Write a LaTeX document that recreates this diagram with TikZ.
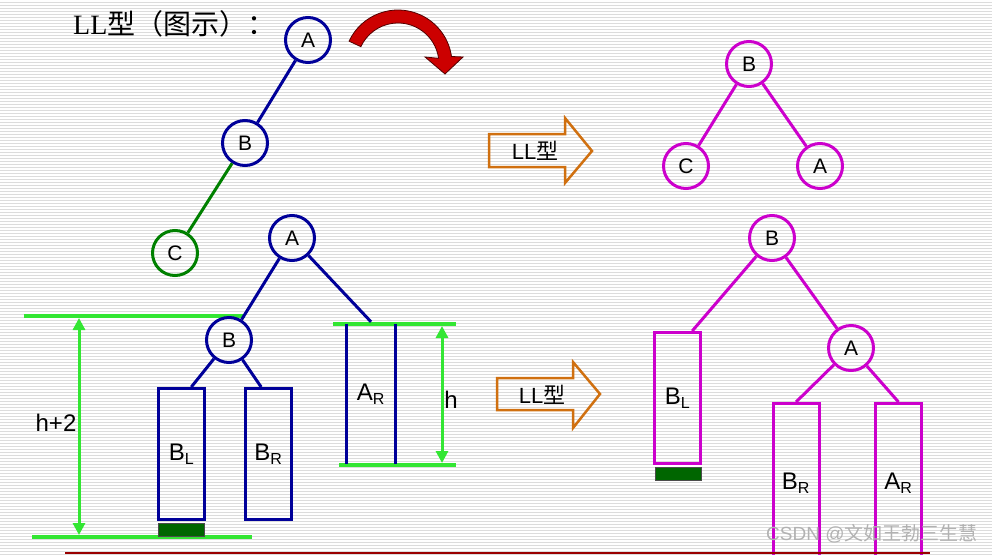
\documentclass[tikz,border=0pt]{standalone}
\usepackage{fontspec}
\setmainfont{Liberation Sans}
\newfontfamily\cjk{Noto Sans CJK SC}
\newfontfamily\serifen{Liberation Serif}
\usetikzlibrary{calc,arrows.meta}
\definecolor{navy}{HTML}{000099}
\definecolor{treegreen}{HTML}{008000}
\definecolor{mag}{HTML}{CC00CC}
\definecolor{lime}{HTML}{33E633}
\definecolor{darkblock}{HTML}{006600}
\definecolor{orangeo}{HTML}{D07010}
\definecolor{redarrow}{HTML}{CC0000}
\definecolor{darkred}{HTML}{990000}
\definecolor{stripe}{HTML}{DCDCDC}
\tikzset{
  circ/.style={circle, draw=#1, line width=3pt, minimum size=45pt, inner sep=0pt, font=\fontsize{21}{21}\selectfont},
  boxn/.style={rectangle, draw=#1, line width=3pt, minimum width=46pt, inner sep=0pt, font=\fontsize{24}{24}\selectfont},
  edge/.style={draw=#1, line width=3pt},
  greenline/.style={draw=lime, line width=3.5pt},
  dimarrow/.style={draw=lime, line width=3pt, {Triangle[width=12pt,length=12pt]}-{Triangle[width=12pt,length=12pt]}},
  block/.style={rectangle, fill=darkblock, draw=black!70, line width=0.6pt, minimum width=46pt, minimum height=13pt, inner sep=0pt},
  fatarrow/.style={draw=orangeo, line width=2.5pt, line join=miter},
  lbl/.style={font=\fontsize{24}{24}\selectfont, inner sep=0pt},
  arrtext/.style={font=\fontsize{22}{22}\selectfont, inner sep=0pt}
}
\newcommand{\sbs}[1]{\textsubscript{\fontsize{16}{16}\selectfont #1}}
\begin{document}
\begin{tikzpicture}[x=1pt,y=-1pt]
\useasboundingbox (0,0) rectangle (992,554);
\fill[white] (0,0) rectangle (992,554);
\foreach \yy in {2,5,...,554} \draw[stripe, line width=1pt] (0,\yy) -- (992,\yy);

% title
\node[anchor=west, inner sep=0pt, font=\fontsize{28}{28}\selectfont] (title) at (73,24) {\serifen LL\cjk 型（图示）：};

% top-left tree
\node[circ=navy] (A1) at (308,40) {A};
\node[circ=navy] (B1) at (245,143) {B};
\node[circ=treegreen] (C1) at (175,253) {C};
\draw[edge=navy] (A1) -- (B1);
\draw[edge=treegreen] (B1) -- (C1);

% red curved arrow
\coordinate (rc) at (398,64);
\filldraw[fill=redarrow, draw=black!60!redarrow, line width=0.8pt, line join=miter]
  ($(rc)+(-155:54)$) arc[start angle=-155, end angle=-8, radius=54]
  -- (463,57) -- (445,74) -- (425,57)
  -- ($(rc)+(-8:41)$) arc[start angle=-8, end angle=-155, radius=41] -- cycle;

% arrows LL
\draw[fatarrow] (489,134) -- (565,134) -- (565,118) -- (592,151) -- (565,183) -- (565,167) -- (489,167) -- cycle;
\node[arrtext] (t1) at (535,151) {LL\cjk 型};
\draw[fatarrow] (497,378) -- (573,378) -- (573,362) -- (600,394) -- (573,428) -- (573,410) -- (497,410) -- cycle;
\node[arrtext] (t2) at (542,395) {LL\cjk 型};

% top-right tree
\node[circ=mag] (B3) at (749,64) {B};
\node[circ=mag] (C3) at (686,166) {C};
\node[circ=mag] (A3) at (820,166) {A};
\draw[edge=mag] (B3) -- (C3);
\draw[edge=mag] (B3) -- (A3);

% bottom-left tree
\draw[greenline] (24,316) -- (245,316);
\draw[greenline] (32,537) -- (252,537);
\draw[greenline] (333,324) -- (456,324);
\draw[greenline] (339,465) -- (456,465);
\coordinate (d1t) at (79,318);
\coordinate (d1b) at (79,535);
\draw[dimarrow] (d1t) -- (d1b);
\coordinate (d2t) at (442,326);
\coordinate (d2b) at (442,463);
\draw[dimarrow] (d2t) -- (d2b);
\node[lbl] (h2) at (56,423) {h+2};
\node[lbl] (h1) at (451,400) {h};

\node[circ=navy] (A2) at (292,238) {A};
\node[circ=navy] (B2) at (229,340) {B};
\node[boxn=navy, minimum height=131pt] (BL1) at (181.5,454) {B\sbs{L}};
\node[boxn=navy, minimum height=131pt] (BR1) at (268.5,454) {B\sbs{R}};
\node[block, anchor=north] (G1) at ($(BL1.south)+(0,1.5)$) {};
\node[rectangle, minimum width=48pt, minimum height=140pt, inner sep=0pt, lbl] (AR1) at (371,394) {A\sbs{R}};
\draw[edge=navy] (AR1.north west) -- (AR1.south west);
\draw[edge=navy] (AR1.north east) -- (AR1.south east);
\draw[edge=navy] (A2) -- (B2);
\draw[edge=navy] (A2) -- ($(AR1.north)+(0,-2)$);
\draw[edge=navy] (B2) -- ($(BL1.north west)!0.7!(BL1.north east)$);
\draw[edge=navy] (B2) -- ($(BR1.north west)!0.35!(BR1.north east)$);

% bottom-right tree
\node[circ=mag] (B4) at (772,238) {B};
\node[circ=mag] (A4) at (851,348) {A};
\node[boxn=mag, minimum height=131pt] (BL2) at (677.5,398) {B\sbs{L}};
\node[block, anchor=north] (G2) at ($(BL2.south)+(1,1.5)$) {};
\node[boxn=mag, minimum height=160pt] (BR2) at (796,483.5) {B\sbs{R}};
\node[boxn=mag, minimum height=160pt] (AR2) at (898.5,483.5) {A\sbs{R}};
\draw[edge=mag] (B4) -- ($(BL2.north west)!0.8!(BL2.north east)$);
\draw[edge=mag] (B4) -- (A4);
\draw[edge=mag] (A4) -- (BR2.north);
\draw[edge=mag] (A4) -- (AR2.north);

% bottom line
\draw[darkred, line width=1.5pt] (65,553) -- (930,553);

% watermark
\node[anchor=west, inner sep=0pt, text=black!30, font=\fontsize{19}{19}\selectfont] (wm) at (766,534) {CSDN @\cjk 文如王勃三生慧};
\end{tikzpicture}
\end{document}
